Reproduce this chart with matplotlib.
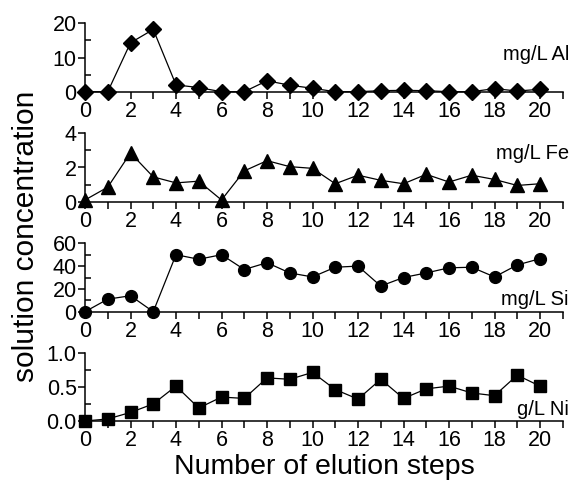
import numpy as np
import matplotlib
matplotlib.use('Agg')
from matplotlib import pyplot as plt
from matplotlib.ticker import MultipleLocator

plt.rcParams['font.family'] = ['Liberation Sans', 'DejaVu Sans']

# 数据
steps = list(range(21))
al_mg_l = [0, 0, 14.3, 18.2, 2.0, 1.2, 0, 0, 3.2, 1.9, 1.0,
           0, 0, 0.3, 0.4, 0.3, 0, 0, 0.9, 0.2, 0.7]
fe_mg_l = [0.1, 0.85, 2.85, 1.45, 1.1, 1.2, 0.1, 1.8, 2.4, 2.05, 1.95,
           1.05, 1.55, 1.25, 1.05, 1.6, 1.15, 1.55, 1.3, 0.95, 1.05]
si_mg_l = [0, 11, 14, 0, 50, 46, 50, 37, 43, 34, 30.5,
           39, 40, 22.5, 30, 34, 38.5, 39, 30.5, 41, 46.5]
ni_g_l = [0, 0.03, 0.125, 0.25, 0.51, 0.19, 0.35, 0.33, 0.63, 0.61, 0.71,
          0.46, 0.32, 0.61, 0.33, 0.47, 0.51, 0.41, 0.37, 0.67, 0.51]

panels = [
    # (值, 标记, 标记大小, y 上限, 主刻度, 次刻度, 标签, 标签 y 位置, 刻度格式)
    (al_mg_l, 'D', 8.0, 20, 10, 5, 'mg/L Al', 0.54, '{:.0f}'),
    (fe_mg_l, '^', 10.0, 4, 2, 1, 'mg/L Fe', 0.70, '{:.0f}'),
    (si_mg_l, 'o', 8.5, 60, 20, 10, 'mg/L Si', 0.18, '{:.0f}'),
    (ni_g_l, 's', 8.0, 1.0, 0.5, 0.25, 'g/L Ni', 0.17, '{:.1f}'),
]

fig = plt.figure(figsize=(5.73, 4.84), dpi=100)

left = 85 / 573
width = 21 * 22.75 / 573
height = 68.4 / 484
bottoms = [1 - 91.7 / 484, 1 - 201.7 / 484, 1 - 311.7 / 484, 1 - 421 / 484]

for (vals, marker, ms, ymax, major, minor, label, label_y, fmt), bottom in zip(panels, bottoms):
    ax = fig.add_axes([left, bottom, width, height])
    ax.plot(steps, vals, color='black', linewidth=0.9, marker=marker,
            markersize=ms, markerfacecolor='black', markeredgecolor='black',
            clip_on=False, zorder=3)
    ax.set_xlim(0, 21)
    ax.set_ylim(0, ymax)

    ax.spines['top'].set_visible(False)
    ax.spines['right'].set_visible(False)
    for side in ('left', 'bottom'):
        ax.spines[side].set_linewidth(1.1)

    # x 轴：每个整数一个刻度，偶数处标注
    ax.set_xticks(range(0, 22))
    ax.set_xticklabels([str(i) if i % 2 == 0 and i <= 20 else '' for i in range(0, 22)])
    ax.tick_params(axis='x', direction='out', length=5, width=1.1,
                   labelsize=15.5, pad=1.5)

    # y 轴：主刻度向外，次刻度向内
    ax.yaxis.set_major_locator(MultipleLocator(major))
    ax.yaxis.set_minor_locator(MultipleLocator(minor))
    ax.set_yticklabels([fmt.format(t) for t in ax.get_yticks()])
    ax.tick_params(axis='y', which='major', direction='out', length=5,
                   width=1.1, labelsize=15.5, pad=1)
    ax.tick_params(axis='y', which='minor', direction='in', length=4, width=1.1)

    ax.text(1.013, label_y, label, transform=ax.transAxes, ha='right',
            va='center', fontsize=14.5)

fig.text(0.045, 1 - 236 / 484, 'solution concentration', rotation=90,
         ha='center', va='center', fontsize=21.5)
fig.text(324 / 573, 0.035, 'Number of elution steps', ha='center', va='center',
         fontsize=20.5)

fig.savefig('out.png', dpi=100)
